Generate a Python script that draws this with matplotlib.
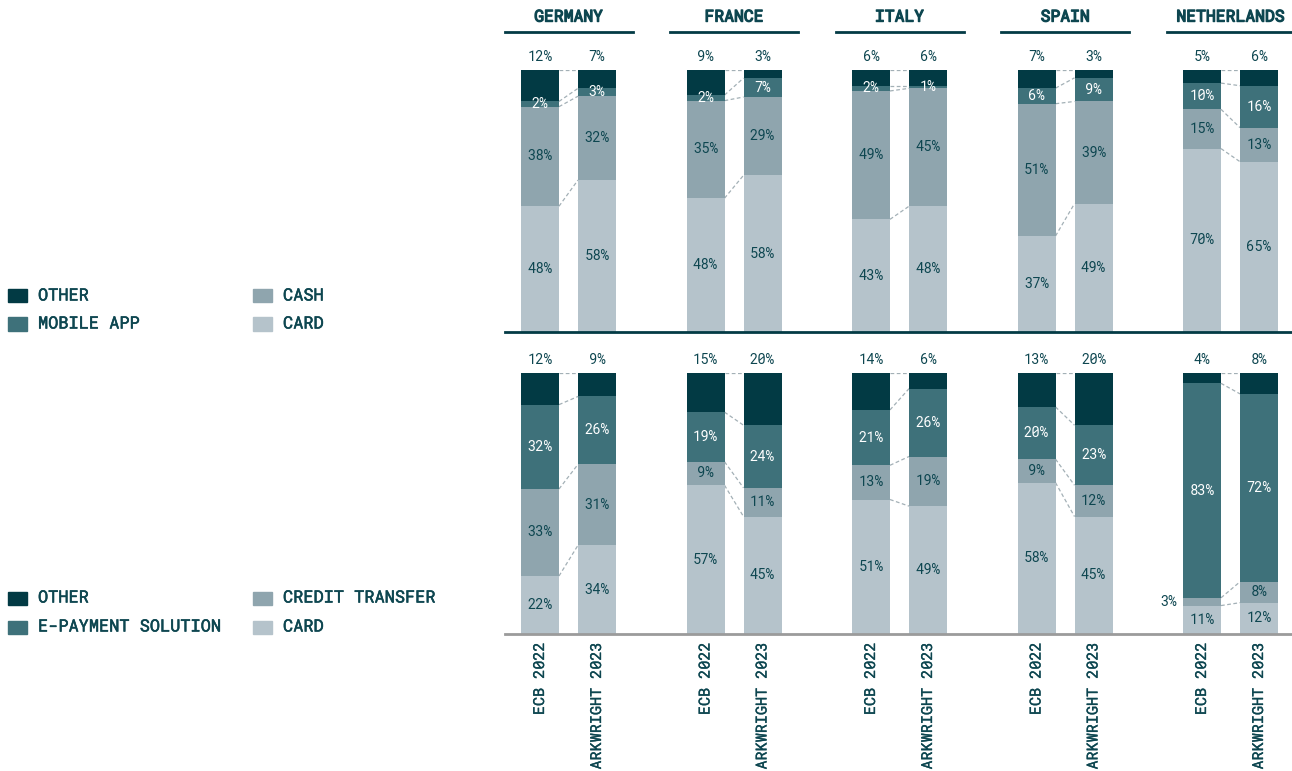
import matplotlib
matplotlib.use('Agg')
import matplotlib.pyplot as plt
import matplotlib.patheffects as pe
from matplotlib.patches import Rectangle
from matplotlib.transforms import blended_transform_factory

countries = ["GERMANY", "FRANCE", "ITALY", "SPAIN", "NETHERLANDS"]
sources = ["ECB 2022", "ARKWRIGHT 2023"]

# POS share by country, [ECB 2022, Arkwright 2023]
pos_card = [[48, 58], [48, 58], [43, 48], [37, 49], [70, 65]]
pos_cash = [[38, 32], [35, 29], [49, 45], [51, 39], [15, 13]]
pos_mobile = [[2, 3], [2, 7], [2, 1], [6, 9], [10, 16]]
pos_other = [[12, 7], [9, 3], [6, 6], [7, 3], [5, 6]]
pos_labels = ["OTHER", "MOBILE APP", "CASH", "CARD"]

# online share by country
web_card = [[22, 34], [57, 45], [51, 49], [58, 45], [11, 12]]
web_credit = [[33, 31], [9, 11], [13, 19], [9, 12], [3, 8]]
web_epay = [[32, 26], [19, 24], [21, 26], [20, 23], [83, 72]]
web_other = [[12, 9], [15, 20], [14, 6], [13, 20], [4, 8]]
web_labels = ["OTHER", "E-PAYMENT SOLUTION", "CREDIT TRANSFER", "CARD"]

DARK = "#033b45"
TEXT = "#0d4650"
C_OTHER = "#023a44"
C_MID = "#3e717a"
C_CASH = "#8fa5ae"
C_CARD = "#b5c3cb"
DASH = "#a3b0b6"
MONO = ["Roboto Mono", "DejaVu Sans Mono"]

W, H = 1292, 771
FIRST_X = 540
GROUP_STEP = 165.5
BAR_STEP = 57
BAR_W = 38

plt.rcParams["font.family"] = MONO
fig = plt.figure(figsize=(W / 100, H / 100), dpi=100)


def heavy(width):
    # thicken the regular mono face a little
    return [pe.withStroke(linewidth=width, foreground=TEXT)]


def px_axes(left, top, right, bottom):
    return fig.add_axes([left / W, 1 - bottom / H, (right - left) / W, (bottom - top) / H])


def bar_x(g, b):
    return FIRST_X + g * GROUP_STEP + b * BAR_STEP


def draw_panel(ax, layers):
    colors = [C_CARD, C_CASH, C_MID, C_OTHER]
    txt_colors = [TEXT, TEXT, "white", TEXT]
    for g in range(len(countries)):
        tops = []
        for b in range(len(sources)):
            vals = [layer[g][b] for layer in layers]
            total = float(sum(vals))
            x = bar_x(g, b)
            bottom = 0.0
            bounds = []
            for i, v in enumerate(vals):
                h = v / total
                ax.bar(x, h, BAR_W, bottom=bottom, color=colors[i], linewidth=0, zorder=2)
                label = "{}%".format(v)
                if i == 3:
                    ax.annotate(label, (x, 1.0), xytext=(0, 4), textcoords="offset points",
                                ha="center", va="bottom", fontsize=10, color=TEXT)
                elif i == 1 and v < 5:
                    ax.text(x - BAR_W / 2 - 6, bottom + h / 2, label, ha="right",
                            va="center", fontsize=10, color=TEXT, zorder=3)
                else:
                    ax.text(x, bottom + h / 2, label, ha="center", va="center",
                            fontsize=10, color=txt_colors[i], zorder=3)
                bottom += h
                bounds.append(bottom)
            tops.append(bounds)
        # dashed links between matching segment edges
        x0 = bar_x(g, 0) + BAR_W / 2
        x1 = bar_x(g, 1) - BAR_W / 2
        for y0, y1 in zip(tops[0], tops[1]):
            ax.plot([x0, x1], [y0, y1], color=DASH, lw=0.9, ls=(0, (3, 2)), zorder=1)

    ax.set_xlim(505, 1292)
    ax.set_ylim(0, 1)
    for s in ax.spines.values():
        s.set_visible(False)
    ax.set_yticks([])


def draw_legend(labels, rows):
    colors = [C_OTHER, C_MID, C_CASH, C_CARD]
    spots = [(8, rows[0]), (8, rows[1]), (253, rows[0]), (253, rows[1])]
    for label, color, (x, y) in zip(labels, colors, spots):
        fig.patches.append(Rectangle((x / W, 1 - (y + 6.5) / H), 19 / W, 13 / H,
                                     transform=fig.transFigure, color=color))
        fig.text((x + 30) / W, 1 - y / H, label, ha="left", va="center",
                 fontsize=12.2, color=TEXT, path_effects=heavy(0.4))


ax_top = px_axes(505, 70, 1292, 332)
ax_bot = px_axes(505, 373, 1292, 634)

draw_panel(ax_top, [pos_card, pos_cash, pos_mobile, pos_other])
draw_panel(ax_bot, [web_card, web_credit, web_epay, web_other])

ax_top.axhline(0, color=DARK, lw=2, zorder=4, clip_on=False)
ax_bot.axhline(0, color="#9b9b9b", lw=2, zorder=4, clip_on=False)

ax_top.set_xticks([])
ticks = [bar_x(g, b) for g in range(len(countries)) for b in range(len(sources))]
ax_bot.set_xticks(ticks, sources * len(countries), rotation=90, fontsize=10.9, color=TEXT)
ax_bot.tick_params(axis="x", length=0, pad=6)
for t in ax_bot.get_xticklabels():
    t.set_path_effects(heavy(0.25))

# country headers with underline
tr = blended_transform_factory(ax_top.transData, ax_top.transAxes)
for g, name in enumerate(countries):
    cx = (bar_x(g, 0) + bar_x(g, 1)) / 2
    ax_top.text(cx, 1.202, name, transform=tr, ha="center", va="center", fontsize=11.8,
                color=TEXT, path_effects=heavy(0.9))
    ax_top.plot([cx - 64, cx + 64], [1.145, 1.145], transform=tr, color=DARK, lw=2,
                clip_on=False)

draw_legend(pos_labels, (296, 324))
draw_legend(web_labels, (598, 627))

fig.savefig("out.png", dpi=100)
